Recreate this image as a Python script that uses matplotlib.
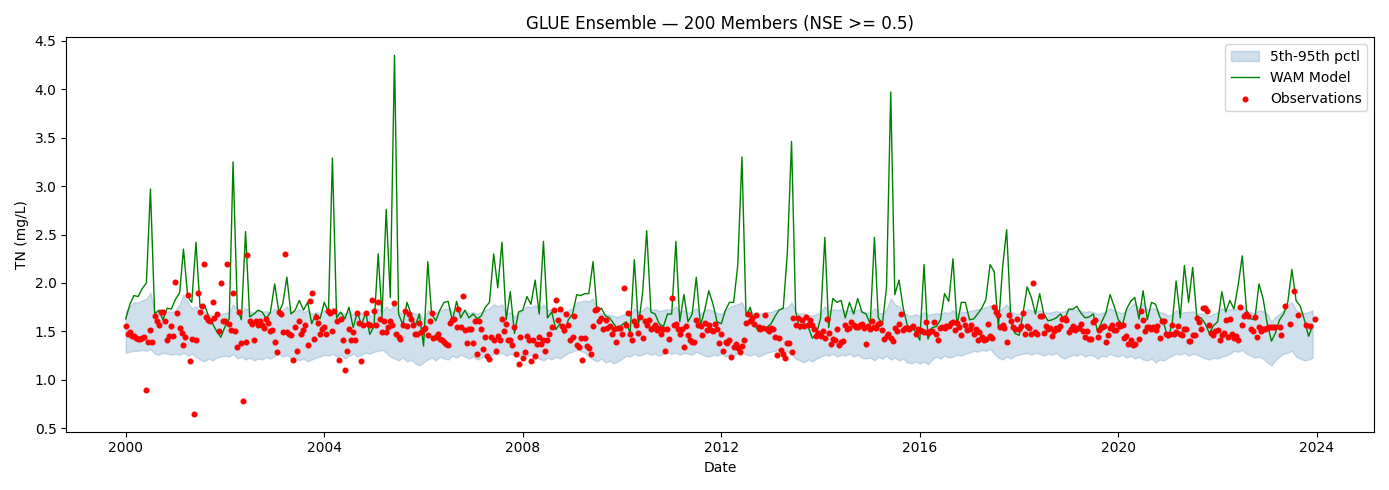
import numpy as np
import pandas as pd
import matplotlib
matplotlib.use("Agg")
import matplotlib.pyplot as plt
import matplotlib.dates as mdates

# monthly WAM model output, one row per year (2000..2023)
wam_model = [
    [1.63, 1.78, 1.87, 1.86, 1.94, 2.00, 2.97, 1.68, 1.72, 1.62, 1.74, 1.73],
    [1.83, 1.90, 2.35, 1.86, 1.80, 2.42, 1.75, 1.78, 1.66, 1.58, 1.50, 1.44],
    [1.55, 1.63, 3.25, 1.74, 1.62, 2.53, 1.65, 1.68, 1.72, 1.70, 1.63, 1.70],
    [1.99, 1.70, 1.78, 2.06, 1.68, 1.72, 1.82, 1.72, 1.80, 1.58, 1.68, 1.63],
    [1.80, 1.70, 3.29, 1.64, 1.70, 1.63, 1.75, 1.54, 1.70, 1.56, 1.70, 1.47],
    [1.55, 2.30, 1.65, 2.76, 1.85, 4.35, 1.68, 1.57, 1.80, 1.68, 1.56, 1.68],
    [1.35, 2.22, 1.68, 1.61, 1.72, 1.80, 1.81, 1.61, 1.81, 1.64, 1.72, 1.64],
    [1.68, 1.63, 1.66, 1.75, 1.80, 2.30, 1.95, 2.42, 1.62, 1.91, 1.48, 1.70],
    [1.72, 1.86, 1.78, 2.03, 1.68, 2.43, 1.64, 1.70, 1.52, 1.58, 1.48, 1.62],
    [1.68, 1.88, 1.87, 1.89, 1.89, 2.22, 1.70, 1.74, 1.66, 1.64, 1.58, 1.52],
    [1.57, 1.60, 1.48, 2.24, 1.56, 1.90, 2.54, 1.70, 1.68, 1.58, 1.55, 1.68],
    [1.68, 2.43, 1.60, 1.88, 1.60, 1.68, 2.06, 1.56, 1.72, 1.92, 1.78, 1.60],
    [1.58, 1.72, 1.80, 1.80, 2.18, 3.30, 1.66, 1.75, 1.57, 1.50, 1.54, 1.54],
    [1.58, 1.66, 1.72, 1.74, 2.31, 3.46, 1.71, 1.52, 1.58, 1.55, 1.43, 1.47],
    [1.64, 2.47, 1.54, 1.84, 1.80, 1.82, 1.64, 1.80, 1.68, 1.84, 1.70, 1.68],
    [1.58, 2.47, 1.64, 1.58, 1.96, 3.97, 1.88, 2.03, 1.74, 1.56, 1.54, 1.50],
    [1.41, 2.19, 1.42, 1.54, 1.55, 1.62, 1.89, 1.81, 2.25, 1.56, 1.80, 1.80],
    [1.62, 1.63, 1.68, 1.74, 1.83, 2.19, 2.12, 1.54, 2.16, 2.55, 1.62, 1.48],
    [1.46, 1.71, 1.96, 1.85, 1.68, 1.89, 1.68, 1.61, 1.62, 1.64, 1.68, 1.62],
    [1.73, 1.73, 1.76, 1.69, 1.64, 1.65, 1.68, 1.50, 1.60, 1.69, 1.88, 1.76],
    [1.62, 1.57, 1.73, 1.81, 1.85, 1.63, 1.92, 1.62, 1.80, 1.78, 1.65, 1.58],
    [1.43, 1.59, 2.02, 1.64, 2.18, 1.80, 2.16, 1.64, 1.64, 1.58, 1.48, 1.56],
    [1.60, 1.91, 1.70, 1.82, 1.73, 1.98, 2.28, 1.72, 1.63, 1.62, 1.99, 1.84],
    [1.58, 1.40, 1.48, 1.62, 1.68, 1.80, 2.14, 1.82, 1.76, 1.62, 1.45, 1.56],
]

# 5th percentile of the ensemble, monthly
band_lo = [
    [1.28, 1.29, 1.30, 1.30, 1.31, 1.30, 1.32, 1.27, 1.26, 1.28, 1.27, 1.26],
    [1.27, 1.26, 1.28, 1.25, 1.27, 1.24, 1.21, 1.19, 1.22, 1.20, 1.23, 1.24],
    [1.25, 1.24, 1.27, 1.22, 1.24, 1.21, 1.23, 1.20, 1.22, 1.21, 1.24, 1.22],
    [1.25, 1.27, 1.24, 1.26, 1.22, 1.23, 1.20, 1.22, 1.19, 1.21, 1.23, 1.24],
    [1.26, 1.25, 1.27, 1.24, 1.26, 1.22, 1.25, 1.27, 1.24, 1.26, 1.28, 1.27],
    [1.29, 1.30, 1.31, 1.28, 1.24, 1.22, 1.20, 1.23, 1.19, 1.21, 1.17, 1.15],
    [1.18, 1.21, 1.23, 1.20, 1.24, 1.22, 1.21, 1.25, 1.23, 1.26, 1.24, 1.22],
    [1.24, 1.21, 1.23, 1.25, 1.23, 1.27, 1.26, 1.28, 1.25, 1.27, 1.26, 1.24],
    [1.27, 1.25, 1.26, 1.24, 1.22, 1.20, 1.23, 1.21, 1.24, 1.22, 1.25, 1.28],
    [1.29, 1.31, 1.30, 1.28, 1.24, 1.21, 1.19, 1.22, 1.18, 1.20, 1.17, 1.19],
    [1.22, 1.25, 1.24, 1.27, 1.25, 1.26, 1.28, 1.26, 1.27, 1.25, 1.27, 1.28],
    [1.27, 1.28, 1.26, 1.28, 1.27, 1.26, 1.29, 1.27, 1.25, 1.24, 1.26, 1.25],
    [1.27, 1.24, 1.26, 1.25, 1.28, 1.29, 1.26, 1.25, 1.27, 1.24, 1.26, 1.28],
    [1.29, 1.30, 1.31, 1.29, 1.30, 1.27, 1.22, 1.20, 1.18, 1.21, 1.19, 1.22],
    [1.24, 1.26, 1.25, 1.27, 1.24, 1.26, 1.25, 1.27, 1.24, 1.26, 1.23, 1.22],
    [1.23, 1.20, 1.24, 1.22, 1.25, 1.21, 1.23, 1.20, 1.22, 1.18, 1.17, 1.19],
    [1.17, 1.19, 1.16, 1.21, 1.24, 1.22, 1.25, 1.23, 1.24, 1.26, 1.25, 1.27],
    [1.28, 1.30, 1.29, 1.31, 1.30, 1.32, 1.27, 1.23, 1.21, 1.24, 1.22, 1.25],
    [1.26, 1.27, 1.28, 1.26, 1.28, 1.27, 1.25, 1.27, 1.26, 1.28, 1.24, 1.22],
    [1.24, 1.26, 1.25, 1.27, 1.24, 1.26, 1.25, 1.22, 1.25, 1.24, 1.27, 1.25],
    [1.24, 1.26, 1.23, 1.25, 1.22, 1.24, 1.21, 1.20, 1.22, 1.18, 1.21, 1.20],
    [1.23, 1.25, 1.27, 1.26, 1.28, 1.25, 1.27, 1.26, 1.24, 1.22, 1.21, 1.23],
    [1.22, 1.24, 1.25, 1.27, 1.30, 1.29, 1.31, 1.27, 1.25, 1.23, 1.24, 1.22],
    [1.18, 1.15, 1.20, 1.24, 1.27, 1.28, 1.30, 1.24, 1.22, 1.20, 1.21, 1.23],
]

# 95th percentile of the ensemble, monthly
band_hi = [
    [1.70, 1.76, 1.80, 1.80, 1.82, 1.84, 1.90, 1.71, 1.70, 1.68, 1.71, 1.70],
    [1.72, 1.78, 1.88, 1.80, 1.74, 1.76, 1.71, 1.70, 1.68, 1.66, 1.67, 1.68],
    [1.69, 1.70, 1.78, 1.72, 1.70, 1.74, 1.71, 1.69, 1.72, 1.70, 1.71, 1.69],
    [1.74, 1.70, 1.72, 1.76, 1.70, 1.71, 1.73, 1.70, 1.72, 1.68, 1.70, 1.69],
    [1.72, 1.70, 1.75, 1.69, 1.70, 1.68, 1.71, 1.67, 1.70, 1.68, 1.71, 1.66],
    [1.68, 1.74, 1.70, 1.76, 1.72, 1.80, 1.70, 1.68, 1.72, 1.70, 1.68, 1.69],
    [1.62, 1.72, 1.70, 1.69, 1.72, 1.73, 1.74, 1.70, 1.72, 1.70, 1.71, 1.69],
    [1.70, 1.68, 1.70, 1.72, 1.74, 1.78, 1.76, 1.78, 1.68, 1.70, 1.65, 1.69],
    [1.72, 1.76, 1.75, 1.77, 1.74, 1.78, 1.72, 1.73, 1.71, 1.72, 1.70, 1.72],
    [1.74, 1.80, 1.81, 1.82, 1.81, 1.84, 1.70, 1.69, 1.68, 1.67, 1.66, 1.65],
    [1.67, 1.68, 1.66, 1.74, 1.70, 1.72, 1.76, 1.72, 1.73, 1.71, 1.72, 1.73],
    [1.72, 1.76, 1.70, 1.72, 1.69, 1.71, 1.74, 1.68, 1.72, 1.73, 1.71, 1.69],
    [1.68, 1.72, 1.75, 1.77, 1.78, 1.80, 1.70, 1.72, 1.68, 1.67, 1.69, 1.70],
    [1.70, 1.72, 1.73, 1.74, 1.75, 1.80, 1.70, 1.68, 1.69, 1.67, 1.66, 1.68],
    [1.70, 1.76, 1.71, 1.73, 1.72, 1.73, 1.71, 1.72, 1.70, 1.73, 1.71, 1.70],
    [1.69, 1.74, 1.70, 1.68, 1.73, 1.84, 1.78, 1.76, 1.70, 1.67, 1.66, 1.68],
    [1.66, 1.70, 1.67, 1.68, 1.69, 1.68, 1.70, 1.69, 1.72, 1.68, 1.70, 1.70],
    [1.71, 1.72, 1.73, 1.74, 1.75, 1.77, 1.76, 1.70, 1.74, 1.78, 1.70, 1.69],
    [1.68, 1.70, 1.73, 1.72, 1.70, 1.72, 1.70, 1.69, 1.70, 1.71, 1.70, 1.71],
    [1.72, 1.73, 1.72, 1.71, 1.70, 1.71, 1.70, 1.68, 1.69, 1.71, 1.74, 1.72],
    [1.70, 1.69, 1.72, 1.76, 1.79, 1.74, 1.80, 1.72, 1.74, 1.73, 1.70, 1.69],
    [1.66, 1.68, 1.72, 1.69, 1.70, 1.70, 1.71, 1.68, 1.69, 1.67, 1.66, 1.68],
    [1.70, 1.74, 1.72, 1.73, 1.72, 1.74, 1.76, 1.71, 1.70, 1.69, 1.72, 1.71],
    [1.68, 1.60, 1.65, 1.68, 1.72, 1.78, 1.80, 1.72, 1.70, 1.69, 1.70, 1.72],
]

nan = np.nan
# observed TN, twice a month (1st and 15th), one row per year
obs_tn = [
    [1.56, 1.47, 1.49, 1.45, 1.45, 1.43, 1.42, 1.42, 1.43, 1.44, 0.90, 1.39,
     1.51, 1.39, 1.66, 1.61, 1.57, 1.70, 1.70, 1.61, 1.41, 1.45, 1.56, 1.45],
    [2.01, 1.69, 1.54, 1.48, 1.36, 1.44, 1.88, 1.19, 1.42, 0.65, 1.41, 1.90,
     1.70, 1.76, 2.20, 1.65, 1.62, 1.61, 1.80, 1.64, 1.68, 1.50, 2.00, 1.61],
    [1.61, 2.20, 1.58, 1.51, 1.90, 1.50, 1.34, 1.70, 1.38, 0.78, 1.39, 2.29,
     1.61, 1.58, 1.41, 1.61, 1.57, 1.61, 1.57, 1.54, 1.63, 1.59, 1.50, 1.51],
    [1.39, 1.29, 1.70, 1.68, 1.49, 2.30, 1.49, 1.47, 1.46, 1.20, 1.55, 1.30,
     1.61, 1.47, 1.51, 1.57, 1.36, 1.81, 1.90, 1.42, 1.65, 1.59, 1.47, 1.52],
    [1.55, 1.47, 1.71, 1.69, 1.50, 1.71, 1.61, 1.20, 1.63, 1.41, 1.10, 1.30,
     1.52, 1.41, 1.49, 1.41, 1.69, 1.59, 1.19, 1.57, 1.69, 1.58, 1.57, 1.82],
    [1.71, 1.57, 1.80, 1.63, 1.49, 1.61, 1.49, 1.55, 1.61, 1.57, 1.79, 1.47,
     1.44, 1.42, 1.57, 1.71, 1.56, 1.68, 1.63, 1.57, 1.47, 1.47, 1.59, 1.49],
    [1.52, 1.54, 1.46, 1.61, 1.69, 1.43, 1.44, 1.47, 1.42, 1.41, 1.39, 1.37,
     1.36, 1.59, 1.62, 1.63, 1.55, 1.73, 1.55, 1.87, 1.51, 1.38, 1.52, 1.52],
    [1.38, 1.61, 1.27, 1.61, 1.53, 1.32, 1.44, 1.25, 1.22, 1.44, 1.41, 1.30,
     1.45, 1.41, 1.63, 1.50, 1.58, 1.41, 1.41, 1.36, 1.55, 1.27, 1.16, 1.44],
    [1.23, 1.29, 1.45, 1.41, 1.19, 1.41, 1.25, 1.37, 1.44, 1.37, 1.41, 1.30,
     1.41, 1.47, 1.55, 1.72, 1.82, 1.62, 1.73, 1.56, 1.51, 1.68, 1.57, 1.41],
    [1.44, 1.66, 1.36, 1.34, 1.43, 1.20, 1.43, 1.35, 1.33, 1.27, 1.56, 1.72,
     1.73, 1.61, 1.64, 1.52, 1.62, 1.54, 1.56, 1.47, 1.52, 1.39, 1.54, 1.54],
    [1.47, 1.95, 1.57, 1.69, 1.47, 1.41, 1.61, 1.57, 1.48, 1.65, 1.43, 1.61,
     1.57, 1.62, 1.53, 1.54, 1.57, 1.51, 1.54, 1.47, 1.52, 1.30, 1.52, 1.42],
    [1.85, 1.57, 1.58, 1.52, 1.47, 1.52, 1.34, 1.56, 1.46, 1.41, 1.39, 1.39,
     1.62, 1.57, 1.56, 1.46, 1.59, 1.51, 1.57, 1.51, 1.50, 1.58, 1.52, 1.38],
    [1.47, 1.30, 1.39, 1.38, 1.41, 1.24, 1.34, 1.37, 1.33, 1.29, 1.35, 1.41,
     1.59, 1.68, 1.61, 1.64, 1.58, 1.67, 1.55, 1.52, 1.54, 1.67, 1.52, 1.50],
    [1.54, 1.52, 1.44, 1.26, 1.43, 1.31, 1.27, 1.23, 1.38, 1.38, 1.29, 1.64,
     1.57, 1.64, 1.56, 1.62, 1.56, 1.65, 1.57, 1.62, 1.57, 1.52, 1.45, 1.48],
    [1.45, 1.50, 1.43, 1.63, 1.48, 1.37, 1.42, 1.41, 1.52, 1.36, 1.39, 1.40,
     1.57, 1.52, 1.54, 1.60, 1.57, 1.55, 1.55, 1.57, 1.58, 1.54, 1.37, 1.56],
    [1.52, 1.61, 1.55, 1.54, 1.58, 1.59, 1.51, 1.42, 1.45, 1.47, 1.43, 1.40,
     1.54, 1.50, 1.58, 1.68, 1.51, 1.54, 1.54, 1.53, 1.55, 1.56, 1.47, 1.52],
    [1.51, 1.50, 1.49, 1.60, 1.48, 1.50, 1.50, 1.60, 1.47, 1.41, 1.54, 1.55,
     1.54, 1.56, 1.56, 1.59, 1.60, 1.51, 1.59, 1.55, 1.46, 1.63, 1.57, 1.51],
    [1.52, 1.57, 1.47, 1.53, 1.41, 1.49, 1.44, 1.41, 1.42, 1.58, 1.45, 1.43,
     1.75, 1.70, 1.67, 1.55, 1.57, 1.54, 1.39, 1.67, 1.61, 1.55, 1.53, 1.63],
    [1.53, 1.56, 1.69, 1.47, 1.56, 1.54, 1.47, 2.00, 1.49, 1.47, 1.66, 1.66,
     1.48, 1.56, 1.52, 1.54, 1.45, 1.50, 1.54, 1.52, 1.56, 1.63, 1.64, 1.62],
    [1.49, 1.53, 1.56, 1.51, 1.54, 1.54, 1.58, 1.50, 1.44, 1.50, 1.42, 1.42,
     1.60, 1.62, 1.44, 1.51, 1.55, 1.56, 1.39, 1.46, 1.54, 1.57, 1.51, 1.51],
    [1.58, 1.56, 1.57, 1.43, 1.45, 1.37, 1.41, 1.36, 1.37, 1.56, 1.42, 1.71,
     1.62, 1.50, 1.55, 1.55, 1.53, 1.55, 1.51, 1.56, 1.43, 1.61, 1.61, 1.47],
    [1.46, 1.47, 1.57, 1.47, 1.49, 1.56, 1.47, 1.46, 1.52, 1.52, 1.40, 1.40,
     1.46, 1.46, 1.64, 1.60, 1.52, 1.74, 1.74, 1.71, 1.57, 1.48, 1.46, 1.50],
    [1.51, 1.41, 1.46, 1.48, 1.62, 1.44, 1.63, 1.47, 1.43, 1.45, 1.41, 1.75,
     1.57, 1.66, 1.68, 1.66, 1.52, 1.50, 1.65, 1.44, 1.55, 1.50, 1.53, 1.52],
    [1.54, 1.55, 1.55, 1.55, 1.55, nan, 1.55, 1.46, nan, 1.76, nan, 1.58,
     nan, 1.92, nan, 1.67, nan, nan, nan, 1.57, nan, 1.56, nan, 1.63],
]

model = np.concatenate(wam_model)
lo = np.concatenate(band_lo)
hi = np.concatenate(band_hi)
obs = np.concatenate(obs_tn)

dates = pd.date_range("2000-01-01", periods=len(model), freq="MS")
obs_dates = pd.date_range("2000-01-01", periods=len(obs), freq="SMS")

fig, ax = plt.subplots(figsize=(13.89, 4.9), dpi=100)
ax.fill_between(dates, lo, hi, color="steelblue", alpha=0.25, label="5th-95th pctl")
ax.plot(dates, model, color="green", lw=1, label="WAM Model")
ax.scatter(obs_dates, obs, color="red", s=11, zorder=3, label="Observations")

ax.xaxis.set_major_locator(mdates.YearLocator(4))
ax.xaxis.set_major_formatter(mdates.DateFormatter("%Y"))
ax.set_xlabel("Date")
ax.set_ylabel("TN (mg/L)")
ax.set_title("GLUE Ensemble — 200 Members (NSE >= 0.5)")
ax.legend(loc="upper right")
plt.tight_layout()
plt.savefig("out.png")
